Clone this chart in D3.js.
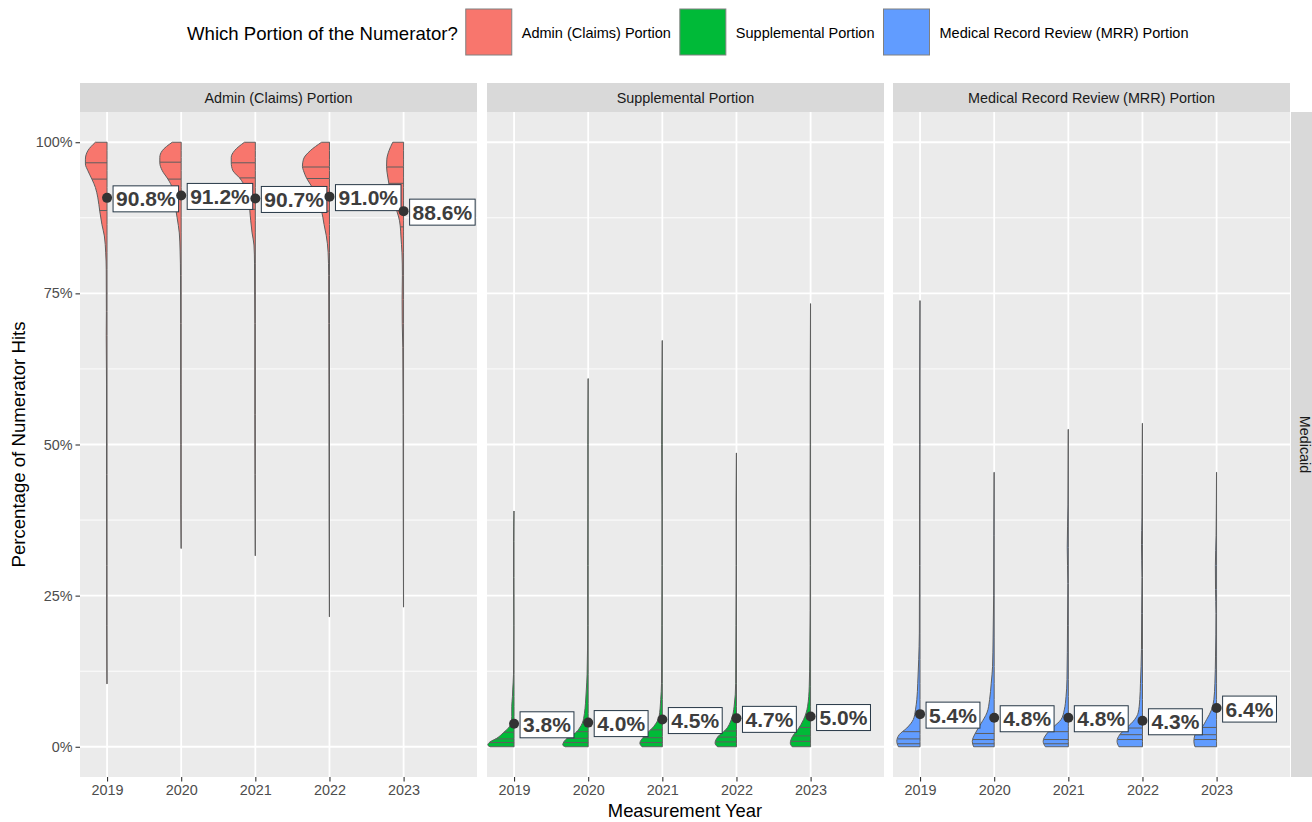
<!DOCTYPE html>
<html>
<head>
<meta charset="utf-8">
<script src="https://cdn.jsdelivr.net/npm/d3@7"></script>
<style>
  body { margin: 0; background: #fff; }
  text { font-family: "Liberation Sans", Arial, sans-serif; }
</style>
</head>
<body>
<script>
// ---- data ----
const years = [2019, 2020, 2021, 2022, 2023];
const portions = ["Admin (Claims) Portion", "Supplemental Portion", "Medical Record Review (MRR) Portion"];
const portionColors = ["#F8766D", "#00BA38", "#619CFF"];
const payerStrip = "Medicaid";
const yTicks = [0, 25, 50, 75, 100];
const yMinor = [12.5, 37.5, 62.5, 87.5];

const adminMeans = [90.8, 91.2, 90.7, 91.0, 88.6];
const supplementalMeans = [3.8, 4.0, 4.5, 4.7, 5.0];
const mrrMeans = [5.4, 4.8, 4.8, 4.3, 6.4];

const adminQuantiles = [[88.7, 93.9, 96.6], [91.5, 93.9, 96.7], [88.9, 94.1, 96.6], [88.6, 94.0, 95.9], [86.0, 93.2, 95.9]];
const supplementalQuantiles = [[0.7, 1.3, 2.4], [0.7, 1.4, 2.5], [0.7, 1.5, 2.8], [0.8, 1.6, 2.6], [0.9, 1.8, 3.2]];
const mrrQuantiles = [[0.5, 1.3, 2.5], [0.5, 1.2, 2.2], [0.5, 1.2, 2.5], [1.2, 2.0, 3.1], [1.2, 2.0, 3.2]];

// density profiles: [percent, relative half-width]
const adminDensity = [
  [[100,.43],[98.6,.71],[97.2,.80],[96.4,.80],[95.3,.71],[93.9,.56],[92.5,.43],[90.8,.34],[88.6,.27],[86.4,.19],[84.5,.10],[81.7,.05],[79,.03],[72,.025],[68,.03],[60,.02],[45,.02],[30,.015],[20,.015],[10.4,.005]],
  [[100,.33],[98.6,.70],[97.5,.79],[96.6,.79],[95.3,.70],[93.9,.49],[92.5,.33],[90.3,.25],[87.5,.15],[85,.07],[82,.04],[78,.025],[70,.02],[60,.02],[50,.015],[40,.015],[32.8,.005]],
  [[100,.40],[98.6,.77],[97.5,.89],[96.6,.89],[95.3,.83],[94.1,.58],[92.5,.37],[90.3,.25],[87,.17],[85,.12],[83,.05],[80,.03],[70,.02],[55,.02],[45,.015],[31.6,.005]],
  [[100,.29],[98.6,.71],[97.2,.96],[96,1.0],[95.3,.96],[94,.84],[92.5,.63],[90.3,.41],[88.6,.29],[86.4,.2],[84.6,.12],[81.8,.05],[78,.03],[70,.025],[60,.02],[40,.015],[21.5,.005]],
  [[100,.40],[98.6,.54],[97.2,.62],[96,.63],[94.1,.58],[92.5,.52],[90.3,.40],[88.6,.25],[87,.15],[85.3,.11],[84.5,.10],[81.7,.06],[78,.045],[74,.055],[70,.05],[66,.03],[55,.02],[40,.015],[23.1,.005]]
];
const supplementalDensity = [
  [[39,.005],[34,.02],[28,.02],[20,.012],[12,.02],[9.4,.05],[8.3,.06],[6.7,.085],[5,.085],[3.9,.11],[3.1,.21],[2.3,.40],[1.4,.64],[0.8,.89],[0.3,.97],[0,.89]],
  [[60.9,.005],[50,.015],[40,.015],[30,.02],[20,.02],[12,.04],[9.4,.07],[7.2,.10],[5.5,.14],[3.9,.22],[3.1,.32],[2.3,.47],[1.4,.78],[0.3,.94],[0,.85]],
  [[67.2,.005],[60,.015],[50,.025],[40,.015],[30,.015],[20,.02],[10.5,.03],[7.8,.06],[5,.12],[3.4,.31],[1.7,.68],[0.6,.83],[0,.75]],
  [[48.6,.005],[40,.015],[30,.015],[20,.02],[10.5,.03],[6.7,.085],[4.5,.19],[2.8,.40],[1.7,.68],[0.6,.79],[0,.7]],
  [[73.3,.005],[60,.015],[50,.015],[40,.02],[30,.015],[15,.03],[10,.05],[6.7,.11],[4.5,.26],[2.8,.48],[1.7,.67],[0.6,.75],[0,.68]]
];
const mrrDensity = [
  [[73.8,.005],[60,.015],[50,.015],[40,.02],[30,.02],[18.8,.026],[14.4,.05],[10.5,.085],[7.8,.12],[6.1,.17],[4.5,.25],[3.1,.49],[2,.77],[0.9,.86],[0,.8]],
  [[45.4,.005],[35,.015],[25,.02],[18,.04],[13.3,.06],[10.5,.11],[7.8,.17],[5.6,.27],[3.9,.48],[2.3,.69],[0.9,.81],[0,.76]],
  [[52.5,.005],[40,.015],[33,.04],[27,.02],[20,.03],[11.1,.05],[8.3,.085],[6.1,.15],[4.5,.27],[3.4,.52],[2.3,.77],[0.9,.93],[0,.85]],
  [[53.5,.005],[45,.015],[38,.02],[33.5,.035],[28,.02],[22,.03],[16.1,.037],[10.5,.074],[7.8,.10],[5.6,.16],[4.5,.29],[3.1,.59],[2,.84],[0.9,.94],[0,.87]],
  [[45.4,.005],[35,.02],[30,.045],[26,.04],[22,.025],[15,.04],[10.5,.063],[7.8,.10],[6.1,.19],[4.5,.37],[3.1,.56],[2,.80],[0.9,.84],[0,.8]]
];

const panelMeans = [adminMeans, supplementalMeans, mrrMeans];
const panelQuantiles = [adminQuantiles, supplementalQuantiles, mrrQuantiles];
const panelDensity = [adminDensity, supplementalDensity, mrrDensity];

// ---- layout ----
const width = 1312, height = 822;
const panelTop = 112, panelBottom = 777, stripH = 29;
const panelLefts = [80, 487, 893], panelW = 397;
const violinWidth = 0.365; // in year units for relative width 1

const svg = d3.select("body").append("svg")
  .attr("width", width).attr("height", height);
svg.append("rect").attr("width", width).attr("height", height).attr("fill", "#fff");

const y = d3.scaleLinear().domain([-5, 105]).range([panelBottom, panelTop]);

// legend
const legend = svg.append("g");
const legTitle = legend.append("text")
  .attr("x", 187).attr("y", 33).attr("dy", "0.35em")
  .style("font-size", "18.6px").attr("fill", "#000")
  .text("Which Portion of the Numerator?");
let lx = 187 + legTitle.node().getComputedTextLength() + 8;
portions.forEach((p, i) => {
  legend.append("rect").attr("x", lx).attr("y", 9).attr("width", 46).attr("height", 46)
    .attr("fill", portionColors[i]).attr("stroke", "#808080").attr("stroke-width", 1);
  lx += 46 + 10;
  const t = legend.append("text").attr("x", lx).attr("y", 33).attr("dy", "0.35em")
    .style("font-size", "14.5px").attr("fill", "#000").text(p);
  lx += t.node().getComputedTextLength() + 9;
});

// panels
portions.forEach((p, pi) => {
  const left = panelLefts[pi];
  const x = d3.scaleLinear().domain([2018.635, 2023.99]).range([left, left + panelW]);
  const g = svg.append("g");

  g.append("rect").attr("x", left).attr("y", panelTop).attr("width", panelW)
    .attr("height", panelBottom - panelTop).attr("fill", "#ebebeb");
  // strip
  g.append("rect").attr("x", left).attr("y", panelTop - stripH).attr("width", panelW)
    .attr("height", stripH).attr("fill", "#d9d9d9");
  g.append("text").attr("x", left + panelW / 2).attr("y", panelTop - stripH / 2)
    .attr("dy", "0.35em").attr("text-anchor", "middle")
    .style("font-size", "14.4px").attr("fill", "#1a1a1a").text(p);

  // grid
  g.selectAll("line.minor").data(yMinor).join("line").attr("class", "minor")
    .attr("x1", left).attr("x2", left + panelW)
    .attr("y1", d => y(d)).attr("y2", d => y(d))
    .attr("stroke", "#fff").attr("stroke-width", 0.9);
  g.selectAll("line.major").data(yTicks).join("line").attr("class", "major")
    .attr("x1", left).attr("x2", left + panelW)
    .attr("y1", d => y(d)).attr("y2", d => y(d))
    .attr("stroke", "#fff").attr("stroke-width", 1.8);
  g.selectAll("line.vmajor").data(years).join("line").attr("class", "vmajor")
    .attr("x1", d => x(d)).attr("x2", d => x(d))
    .attr("y1", panelTop).attr("y2", panelBottom)
    .attr("stroke", "#fff").attr("stroke-width", 1.8);

  // violins
  const dens = panelDensity[pi];
  years.forEach((yr, i) => {
    const prof = dens[i].slice().sort((a, b) => b[0] - a[0]);
    const area = d3.area()
      .y(d => y(d[0]))
      .x0(x(yr))
      .x1(d => x(yr - d[1] * violinWidth))
      .curve(d3.curveMonotoneY);
    g.append("path").datum(prof).attr("d", area)
      .attr("fill", portionColors[pi]).attr("stroke", "#5e5e5e").attr("stroke-width", 1);

    // quantile lines
    const asc = prof.slice().reverse();
    panelQuantiles[pi][i].forEach(q => {
      const j = d3.bisector(d => d[0]).left(asc, q);
      const a = asc[Math.max(0, j - 1)], b = asc[Math.min(asc.length - 1, j)];
      const t = b[0] === a[0] ? 0 : (q - a[0]) / (b[0] - a[0]);
      const w = a[1] + t * (b[1] - a[1]);
      g.append("line")
        .attr("x1", x(yr - w * violinWidth)).attr("x2", x(yr))
        .attr("y1", y(q)).attr("y2", y(q))
        .attr("stroke", "#5e5e5e").attr("stroke-width", 1);
    });
  });

  // mean points + labels
  const means = panelMeans[pi];
  years.forEach((yr, i) => {
    const cx = x(yr), cy = y(means[i]);
    const lg = g.append("g");
    const txt = lg.append("text")
      .attr("x", cx + 9).attr("y", cy + 1).attr("dy", "0.36em")
      .style("font-size", "21px").style("font-weight", "bold")
      .attr("fill", "#3d3d3d").text(means[i].toFixed(1) + "%");
    const tw = txt.node().getComputedTextLength();
    lg.insert("rect", "text")
      .attr("x", cx + 6).attr("y", cy + 1 - 13)
      .attr("width", tw + 6).attr("height", 26)
      .attr("fill", "#fff").attr("stroke", "#263746").attr("stroke-width", 1);
    g.append("circle").attr("cx", cx).attr("cy", cy).attr("r", 5).attr("fill", "#333");
  });

  // x axis
  const xAxis = g.append("g").attr("transform", `translate(0,${panelBottom})`)
    .call(d3.axisBottom(x).tickValues(years).tickFormat(d3.format("d")).tickSize(4.5).tickPadding(3));
  xAxis.select(".domain").remove();
  xAxis.selectAll("line").attr("stroke", "#333").attr("stroke-width", 1.1);
  xAxis.selectAll("text").style("font-size", "14.4px").attr("fill", "#4d4d4d")
    .style("font-family", "'Liberation Sans', Arial, sans-serif");

  if (pi === 0) {
    const yAxis = g.append("g").attr("transform", `translate(${left},0)`)
      .call(d3.axisLeft(y).tickValues(yTicks).tickFormat(d => d + "%").tickSize(4.5).tickPadding(3));
    yAxis.select(".domain").remove();
    yAxis.selectAll("line").attr("stroke", "#333").attr("stroke-width", 1.1);
    yAxis.selectAll("text").style("font-size", "14.4px").attr("fill", "#4d4d4d")
      .style("font-family", "'Liberation Sans', Arial, sans-serif");
  }
});

// right strip
const rsx = panelLefts[2] + panelW + 1;
svg.append("rect").attr("x", rsx).attr("y", panelTop).attr("width", stripH)
  .attr("height", panelBottom - panelTop).attr("fill", "#d9d9d9");
svg.append("text")
  .attr("transform", `translate(${rsx + stripH / 2},${(panelTop + panelBottom) / 2}) rotate(90)`)
  .attr("dy", "0.35em").attr("text-anchor", "middle")
  .style("font-size", "14.4px").attr("fill", "#1a1a1a").text(payerStrip);

// axis titles
svg.append("text").attr("x", (panelLefts[0] + panelLefts[2] + panelW) / 2).attr("y", 811)
  .attr("dy", "0.35em").attr("text-anchor", "middle")
  .style("font-size", "18.4px").attr("fill", "#000").text("Measurement Year");
svg.append("text")
  .attr("transform", `translate(18,${(panelTop + panelBottom) / 2}) rotate(-90)`)
  .attr("dy", "0.35em").attr("text-anchor", "middle")
  .style("font-size", "18.6px").attr("fill", "#000").text("Percentage of Numerator Hits");
</script>
</body>
</html>
